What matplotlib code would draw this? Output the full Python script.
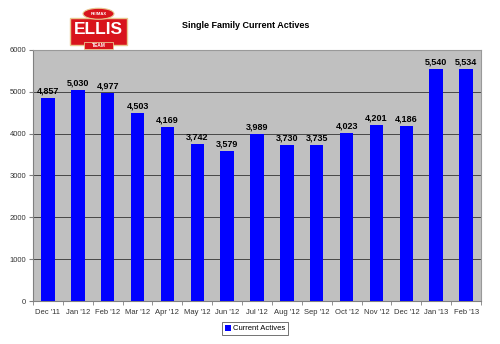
import numpy as np
import matplotlib.pyplot as plt
from matplotlib.patches import Rectangle, Ellipse

months = ["Dec '11", "Jan '12", "Feb '12", "Mar '12", "Apr '12", "May '12", "Jun '12",
          "Jul '12", "Aug '12", "Sep '12", "Oct '12", "Nov '12", "Dec '12", "Jan '13", "Feb '13"]
actives = [4857, 5030, 4977, 4503, 4169, 3742, 3579, 3989, 3730, 3735, 4023, 4201, 4186, 5540, 5534]
yticks = [0, 1000, 2000, 3000, 4000, 5000, 6000]

plt.rcParams['font.family'] = ['Liberation Sans', 'DejaVu Sans']

fig = plt.figure(figsize=(5, 3.44), dpi=100)
ax = fig.add_axes([0.066, 0.125, 0.896, 0.730])
ax.set_facecolor('#c0c0c0')

x = np.arange(len(months))
bars = ax.bar(x, actives, width=0.45, color='#0000ff', zorder=3, label='Current Actives')
for xi, v in zip(x, actives):
    ax.text(xi, v + 60, "{:,}".format(v), ha='center', va='bottom',
            fontsize=6.5, fontweight='bold', zorder=4)

ax.set_xlim(-0.5, len(months) - 0.5)
ax.set_ylim(0, 6000)
ax.set_yticks(yticks)
ax.set_yticklabels([str(t) for t in yticks], fontsize=5.5, color='#333333')
ax.set_xticks(x)
ax.set_xticklabels(months, fontsize=5.5, color='#333333')
ax.tick_params(axis='x', length=0, pad=6)
ax.set_xticks(np.arange(-0.5, len(months)), minor=True)
ax.tick_params(axis='x', which='minor', length=3, color='#808080')
ax.tick_params(axis='y', length=3, color='#808080', pad=2)
ax.yaxis.grid(True, color='#333333', linewidth=0.6, zorder=1)
ax.set_axisbelow(True)
for side in ['left', 'bottom']:
    ax.spines[side].set_color('#808080')
for side in ['top', 'right']:
    ax.spines[side].set_color('#999999')

fig.text(0.492, 0.925, "Single Family Current Actives", ha='center', va='center',
         fontsize=6.5, fontweight='bold')

# logo block
fig.patches.append(Rectangle((0.14, 0.869), 0.114, 0.079, transform=fig.transFigure,
                             facecolor='#d8141c', edgecolor='#e8c890', lw=1.0))
fig.patches.append(Ellipse((0.197, 0.96), 0.062, 0.032, transform=fig.transFigure,
                           facecolor='#d8141c', edgecolor='#e8c890', lw=0.8))
fig.text(0.197, 0.96, "RE/MAX", ha='center', va='center', fontsize=3, color='white',
         fontweight='bold')
fig.text(0.197, 0.913, "ELLIS", ha='center', va='center', fontsize=12.5, color='white',
         fontweight='bold')
fig.patches.append(Rectangle((0.168, 0.859), 0.058, 0.02, transform=fig.transFigure,
                             facecolor='#d8141c', edgecolor='#e8c890', lw=0.6))
fig.text(0.197, 0.869, "TEAM", ha='center', va='center', fontsize=3.5, color='white',
         fontweight='bold')

leg = fig.legend(handles=[bars], labels=['Current Actives'], loc='center',
                 bbox_to_anchor=(0.51, 0.045), fontsize=5.5, frameon=True, fancybox=False,
                 handlelength=0.8, handleheight=0.8, handletextpad=0.3, borderpad=0.3)
leg.get_frame().set_edgecolor('#333333')
leg.get_frame().set_linewidth(0.6)

fig.savefig('out.png', dpi=100)
